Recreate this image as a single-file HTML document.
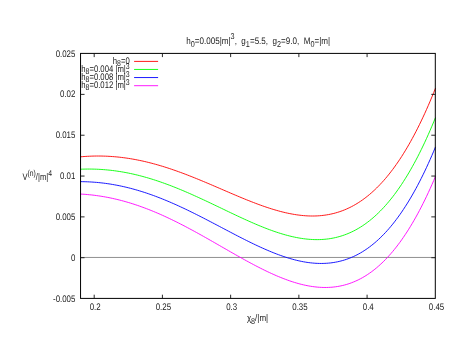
<!DOCTYPE html>
<html><head><meta charset="utf-8"><title>plot</title>
<style>
html,body{margin:0;padding:0;background:#fff;}
svg{display:block;}
g.t{filter:blur(0.4px);opacity:0.9;}
text{text-rendering:geometricPrecision;font-family:"Liberation Sans",sans-serif;font-size:10px;fill:#000;}
.sub{font-size:9px;}
</style></head><body>
<svg width="462" height="357" viewBox="0 0 462 357">
<rect x="0" y="0" width="462" height="357" fill="#fff"/>
<path d="M80.55 257.45 H435.30" stroke="#909090" stroke-width="1"/>
<path d="M80.50 156.81 L82.28 156.66 L84.07 156.52 L85.85 156.41 L87.64 156.30 L89.42 156.22 L91.20 156.15 L92.99 156.09 L94.77 156.05 L96.56 156.03 L98.34 156.03 L100.12 156.04 L101.91 156.06 L103.69 156.11 L105.47 156.17 L107.26 156.24 L109.04 156.33 L110.83 156.44 L112.61 156.57 L114.39 156.71 L116.18 156.87 L117.96 157.04 L119.75 157.23 L121.53 157.44 L123.31 157.66 L125.10 157.90 L126.88 158.15 L128.67 158.42 L130.45 158.70 L132.23 159.00 L134.02 159.32 L135.80 159.65 L137.59 160.00 L139.37 160.36 L141.15 160.73 L142.94 161.12 L144.72 161.53 L146.51 161.95 L148.29 162.38 L150.07 162.83 L151.86 163.29 L153.64 163.77 L155.42 164.26 L157.21 164.76 L158.99 165.27 L160.78 165.80 L162.56 166.34 L164.34 166.89 L166.13 167.46 L167.91 168.03 L169.70 168.62 L171.48 169.22 L173.26 169.83 L175.05 170.45 L176.83 171.08 L178.62 171.72 L180.40 172.36 L182.18 173.02 L183.97 173.69 L185.75 174.37 L187.54 175.05 L189.32 175.75 L191.10 176.45 L192.89 177.16 L194.67 177.87 L196.45 178.59 L198.24 179.32 L200.02 180.05 L201.81 180.79 L203.59 181.54 L205.37 182.29 L207.16 183.04 L208.94 183.79 L210.73 184.55 L212.51 185.32 L214.29 186.08 L216.08 186.85 L217.86 187.62 L219.65 188.39 L221.43 189.16 L223.21 189.93 L225.00 190.70 L226.78 191.47 L228.57 192.23 L230.35 193.00 L232.13 193.76 L233.92 194.52 L235.70 195.28 L237.48 196.03 L239.27 196.78 L241.05 197.52 L242.84 198.26 L244.62 198.99 L246.40 199.72 L248.19 200.43 L249.97 201.14 L251.76 201.84 L253.54 202.53 L255.32 203.22 L257.11 203.89 L258.89 204.55 L260.68 205.20 L262.46 205.83 L264.24 206.46 L266.03 207.07 L267.81 207.67 L269.60 208.25 L271.38 208.82 L273.16 209.37 L274.95 209.90 L276.73 210.42 L278.52 210.92 L280.30 211.40 L282.08 211.86 L283.87 212.30 L285.65 212.72 L287.43 213.11 L289.22 213.49 L291.00 213.84 L292.79 214.17 L294.57 214.47 L296.35 214.75 L298.14 215.01 L299.92 215.23 L301.71 215.43 L303.49 215.60 L305.27 215.74 L307.06 215.86 L308.84 215.94 L310.63 215.99 L312.41 216.00 L314.19 215.99 L315.98 215.94 L317.76 215.86 L319.55 215.74 L321.33 215.58 L323.11 215.39 L324.90 215.16 L326.68 214.89 L328.46 214.58 L330.25 214.23 L332.03 213.84 L333.82 213.41 L335.60 212.93 L337.38 212.41 L339.17 211.85 L340.95 211.24 L342.74 210.58 L344.52 209.88 L346.30 209.13 L348.09 208.32 L349.87 207.47 L351.66 206.57 L353.44 205.61 L355.22 204.60 L357.01 203.54 L358.79 202.42 L360.58 201.25 L362.36 200.02 L364.14 198.73 L365.93 197.38 L367.71 195.98 L369.49 194.51 L371.28 192.98 L373.06 191.39 L374.85 189.73 L376.63 188.01 L378.41 186.23 L380.20 184.37 L381.98 182.45 L383.77 180.47 L385.55 178.41 L387.33 176.28 L389.12 174.08 L390.90 171.80 L392.69 169.45 L394.47 167.03 L396.25 164.53 L398.04 161.96 L399.82 159.30 L401.61 156.57 L403.39 153.76 L405.17 150.86 L406.96 147.88 L408.74 144.82 L410.53 141.68 L412.31 138.44 L414.09 135.13 L415.88 131.72 L417.66 128.22 L419.44 124.64 L421.23 120.96 L423.01 117.19 L424.80 113.33 L426.58 109.37 L428.36 105.32 L430.15 101.17 L431.93 96.92 L433.72 92.57 L435.50 88.12" stroke="#ff0000" fill="none" stroke-width="0.9"/>
<path d="M80.50 169.22 L82.28 169.16 L84.07 169.11 L85.85 169.08 L87.64 169.06 L89.42 169.06 L91.20 169.07 L92.99 169.10 L94.77 169.15 L96.56 169.21 L98.34 169.29 L100.12 169.39 L101.91 169.50 L103.69 169.63 L105.47 169.77 L107.26 169.94 L109.04 170.11 L110.83 170.31 L112.61 170.52 L114.39 170.74 L116.18 170.99 L117.96 171.25 L119.75 171.52 L121.53 171.81 L123.31 172.12 L125.10 172.44 L126.88 172.78 L128.67 173.14 L130.45 173.51 L132.23 173.89 L134.02 174.29 L135.80 174.71 L137.59 175.14 L139.37 175.59 L141.15 176.05 L142.94 176.53 L144.72 177.02 L146.51 177.52 L148.29 178.04 L150.07 178.57 L151.86 179.12 L153.64 179.68 L155.42 180.25 L157.21 180.84 L158.99 181.44 L160.78 182.05 L162.56 182.68 L164.34 183.32 L166.13 183.97 L167.91 184.63 L169.70 185.30 L171.48 185.98 L173.26 186.68 L175.05 187.38 L176.83 188.10 L178.62 188.82 L180.40 189.56 L182.18 190.30 L183.97 191.06 L185.75 191.82 L187.54 192.59 L189.32 193.37 L191.10 194.15 L192.89 194.95 L194.67 195.75 L196.45 196.55 L198.24 197.37 L200.02 198.19 L201.81 199.01 L203.59 199.84 L205.37 200.67 L207.16 201.51 L208.94 202.35 L210.73 203.20 L212.51 204.05 L214.29 204.90 L216.08 205.75 L217.86 206.60 L219.65 207.46 L221.43 208.31 L223.21 209.17 L225.00 210.02 L226.78 210.88 L228.57 211.73 L230.35 212.58 L232.13 213.43 L233.92 214.28 L235.70 215.12 L237.48 215.96 L239.27 216.79 L241.05 217.62 L242.84 218.44 L244.62 219.26 L246.40 220.07 L248.19 220.87 L249.97 221.66 L251.76 222.45 L253.54 223.23 L255.32 223.99 L257.11 224.75 L258.89 225.50 L260.68 226.23 L262.46 226.95 L264.24 227.66 L266.03 228.36 L267.81 229.04 L269.60 229.71 L271.38 230.36 L273.16 231.00 L274.95 231.62 L276.73 232.22 L278.52 232.80 L280.30 233.37 L282.08 233.91 L283.87 234.44 L285.65 234.94 L287.43 235.43 L289.22 235.89 L291.00 236.33 L292.79 236.74 L294.57 237.13 L296.35 237.50 L298.14 237.83 L299.92 238.15 L301.71 238.43 L303.49 238.69 L305.27 238.91 L307.06 239.11 L308.84 239.28 L310.63 239.41 L312.41 239.51 L314.19 239.58 L315.98 239.62 L317.76 239.62 L319.55 239.59 L321.33 239.52 L323.11 239.41 L324.90 239.27 L326.68 239.08 L328.46 238.86 L330.25 238.60 L332.03 238.29 L333.82 237.94 L335.60 237.55 L337.38 237.12 L339.17 236.64 L340.95 236.12 L342.74 235.54 L344.52 234.92 L346.30 234.26 L348.09 233.54 L349.87 232.77 L351.66 231.95 L353.44 231.08 L355.22 230.16 L357.01 229.18 L358.79 228.15 L360.58 227.06 L362.36 225.92 L364.14 224.72 L365.93 223.45 L367.71 222.13 L369.49 220.75 L371.28 219.31 L373.06 217.80 L374.85 216.23 L376.63 214.60 L378.41 212.90 L380.20 211.13 L381.98 209.29 L383.77 207.39 L385.55 205.42 L387.33 203.37 L389.12 201.26 L390.90 199.07 L392.69 196.81 L394.47 194.47 L396.25 192.05 L398.04 189.56 L399.82 186.99 L401.61 184.35 L403.39 181.62 L405.17 178.81 L406.96 175.92 L408.74 172.94 L410.53 169.88 L412.31 166.73 L414.09 163.50 L415.88 160.18 L417.66 156.77 L419.44 153.27 L421.23 149.68 L423.01 146.00 L424.80 142.22 L426.58 138.35 L428.36 134.38 L430.15 130.31 L431.93 126.15 L433.72 121.89 L435.50 117.52" stroke="#00ff00" fill="none" stroke-width="0.9"/>
<path d="M80.50 181.64 L82.28 181.66 L84.07 181.69 L85.85 181.75 L87.64 181.81 L89.42 181.90 L91.20 182.00 L92.99 182.11 L94.77 182.25 L96.56 182.39 L98.34 182.56 L100.12 182.74 L101.91 182.94 L103.69 183.15 L105.47 183.38 L107.26 183.63 L109.04 183.89 L110.83 184.17 L112.61 184.47 L114.39 184.78 L116.18 185.11 L117.96 185.45 L119.75 185.81 L121.53 186.19 L123.31 186.58 L125.10 186.99 L126.88 187.41 L128.67 187.85 L130.45 188.31 L132.23 188.78 L134.02 189.27 L135.80 189.77 L137.59 190.29 L139.37 190.82 L141.15 191.37 L142.94 191.93 L144.72 192.50 L146.51 193.09 L148.29 193.70 L150.07 194.32 L151.86 194.95 L153.64 195.59 L155.42 196.25 L157.21 196.93 L158.99 197.61 L160.78 198.31 L162.56 199.02 L164.34 199.74 L166.13 200.48 L167.91 201.22 L169.70 201.98 L171.48 202.75 L173.26 203.53 L175.05 204.32 L176.83 205.12 L178.62 205.93 L180.40 206.75 L182.18 207.58 L183.97 208.42 L185.75 209.27 L187.54 210.12 L189.32 210.99 L191.10 211.86 L192.89 212.74 L194.67 213.62 L196.45 214.52 L198.24 215.41 L200.02 216.32 L201.81 217.23 L203.59 218.14 L205.37 219.06 L207.16 219.99 L208.94 220.91 L210.73 221.84 L212.51 222.78 L214.29 223.71 L216.08 224.65 L217.86 225.59 L219.65 226.53 L221.43 227.47 L223.21 228.41 L225.00 229.35 L226.78 230.29 L228.57 231.23 L230.35 232.17 L232.13 233.10 L233.92 234.03 L235.70 234.96 L237.48 235.88 L239.27 236.80 L241.05 237.71 L242.84 238.62 L244.62 239.52 L246.40 240.42 L248.19 241.31 L249.97 242.19 L251.76 243.06 L253.54 243.92 L255.32 244.77 L257.11 245.62 L258.89 246.45 L260.68 247.27 L262.46 248.07 L264.24 248.87 L266.03 249.65 L267.81 250.42 L269.60 251.17 L271.38 251.91 L273.16 252.63 L274.95 253.34 L276.73 254.02 L278.52 254.69 L280.30 255.34 L282.08 255.97 L283.87 256.58 L285.65 257.17 L287.43 257.74 L289.22 258.29 L291.00 258.81 L292.79 259.31 L294.57 259.79 L296.35 260.24 L298.14 260.66 L299.92 261.06 L301.71 261.43 L303.49 261.77 L305.27 262.08 L307.06 262.36 L308.84 262.62 L310.63 262.84 L312.41 263.03 L314.19 263.18 L315.98 263.30 L317.76 263.39 L319.55 263.44 L321.33 263.46 L323.11 263.43 L324.90 263.37 L326.68 263.28 L328.46 263.14 L330.25 262.96 L332.03 262.74 L333.82 262.48 L335.60 262.17 L337.38 261.82 L339.17 261.43 L340.95 260.99 L342.74 260.50 L344.52 259.97 L346.30 259.39 L348.09 258.76 L349.87 258.08 L351.66 257.34 L353.44 256.56 L355.22 255.72 L357.01 254.83 L358.79 253.88 L360.58 252.88 L362.36 251.82 L364.14 250.70 L365.93 249.52 L367.71 248.29 L369.49 246.99 L371.28 245.63 L373.06 244.21 L374.85 242.73 L376.63 241.18 L378.41 239.56 L380.20 237.88 L381.98 236.13 L383.77 234.31 L385.55 232.43 L387.33 230.47 L389.12 228.44 L390.90 226.33 L392.69 224.16 L394.47 221.90 L396.25 219.58 L398.04 217.17 L399.82 214.69 L401.61 212.13 L403.39 209.48 L405.17 206.76 L406.96 203.95 L408.74 201.06 L410.53 198.09 L412.31 195.03 L414.09 191.88 L415.88 188.64 L417.66 185.32 L419.44 181.90 L421.23 178.40 L423.01 174.80 L424.80 171.11 L426.58 167.32 L428.36 163.44 L430.15 159.46 L431.93 155.38 L433.72 151.20 L435.50 146.92" stroke="#0000ff" fill="none" stroke-width="0.9"/>
<path d="M80.50 194.05 L82.28 194.16 L84.07 194.28 L85.85 194.41 L87.64 194.57 L89.42 194.74 L91.20 194.92 L92.99 195.12 L94.77 195.34 L96.56 195.58 L98.34 195.83 L100.12 196.09 L101.91 196.38 L103.69 196.68 L105.47 196.99 L107.26 197.32 L109.04 197.67 L110.83 198.04 L112.61 198.42 L114.39 198.82 L116.18 199.23 L117.96 199.66 L119.75 200.10 L121.53 200.57 L123.31 201.04 L125.10 201.54 L126.88 202.05 L128.67 202.57 L130.45 203.11 L132.23 203.67 L134.02 204.24 L135.80 204.83 L137.59 205.43 L139.37 206.05 L141.15 206.68 L142.94 207.33 L144.72 207.99 L146.51 208.66 L148.29 209.35 L150.07 210.06 L151.86 210.78 L153.64 211.51 L155.42 212.25 L157.21 213.01 L158.99 213.78 L160.78 214.56 L162.56 215.36 L164.34 216.17 L166.13 216.99 L167.91 217.82 L169.70 218.66 L171.48 219.52 L173.26 220.38 L175.05 221.26 L176.83 222.14 L178.62 223.04 L180.40 223.95 L182.18 224.86 L183.97 225.78 L185.75 226.72 L187.54 227.66 L189.32 228.61 L191.10 229.57 L192.89 230.53 L194.67 231.50 L196.45 232.48 L198.24 233.46 L200.02 234.45 L201.81 235.45 L203.59 236.45 L205.37 237.45 L207.16 238.46 L208.94 239.47 L210.73 240.49 L212.51 241.51 L214.29 242.53 L216.08 243.55 L217.86 244.58 L219.65 245.60 L221.43 246.63 L223.21 247.65 L225.00 248.68 L226.78 249.70 L228.57 250.73 L230.35 251.75 L232.13 252.77 L233.92 253.78 L235.70 254.80 L237.48 255.81 L239.27 256.81 L241.05 257.81 L242.84 258.80 L244.62 259.79 L246.40 260.77 L248.19 261.74 L249.97 262.71 L251.76 263.67 L253.54 264.61 L255.32 265.55 L257.11 266.48 L258.89 267.40 L260.68 268.30 L262.46 269.19 L264.24 270.08 L266.03 270.94 L267.81 271.80 L269.60 272.63 L271.38 273.46 L273.16 274.26 L274.95 275.05 L276.73 275.83 L278.52 276.58 L280.30 277.32 L282.08 278.03 L283.87 278.73 L285.65 279.40 L287.43 280.06 L289.22 280.69 L291.00 281.30 L292.79 281.88 L294.57 282.44 L296.35 282.98 L298.14 283.49 L299.92 283.97 L301.71 284.43 L303.49 284.85 L305.27 285.25 L307.06 285.62 L308.84 285.96 L310.63 286.26 L312.41 286.54 L314.19 286.78 L315.98 286.98 L317.76 287.16 L319.55 287.29 L321.33 287.39 L323.11 287.46 L324.90 287.48 L326.68 287.47 L328.46 287.42 L330.25 287.32 L332.03 287.19 L333.82 287.01 L335.60 286.79 L337.38 286.53 L339.17 286.22 L340.95 285.87 L342.74 285.47 L344.52 285.02 L346.30 284.52 L348.09 283.97 L349.87 283.38 L351.66 282.73 L353.44 282.03 L355.22 281.28 L357.01 280.47 L358.79 279.61 L360.58 278.69 L362.36 277.72 L364.14 276.69 L365.93 275.60 L367.71 274.45 L369.49 273.23 L371.28 271.96 L373.06 270.63 L374.85 269.23 L376.63 267.76 L378.41 266.23 L380.20 264.64 L381.98 262.97 L383.77 261.24 L385.55 259.44 L387.33 257.56 L389.12 255.62 L390.90 253.60 L392.69 251.51 L394.47 249.34 L396.25 247.10 L398.04 244.78 L399.82 242.38 L401.61 239.90 L403.39 237.35 L405.17 234.71 L406.96 231.99 L408.74 229.18 L410.53 226.29 L412.31 223.32 L414.09 220.25 L415.88 217.10 L417.66 213.86 L419.44 210.53 L421.23 207.11 L423.01 203.60 L424.80 199.99 L426.58 196.29 L428.36 192.50 L430.15 188.60 L431.93 184.61 L433.72 180.52 L435.50 176.32" stroke="#ff00ff" fill="none" stroke-width="0.9"/>
<rect x="80.55" y="53.40" width="354.75" height="245.00" fill="none" stroke="#000" stroke-width="1"/>
<path d="M94.19 298.40 v-3.7 M94.19 53.40 v3.7" stroke="#111" stroke-width="0.9"/>
<path d="M162.42 298.40 v-3.7 M162.42 53.40 v3.7" stroke="#111" stroke-width="0.9"/>
<path d="M230.64 298.40 v-3.7 M230.64 53.40 v3.7" stroke="#111" stroke-width="0.9"/>
<path d="M298.86 298.40 v-3.7 M298.86 53.40 v3.7" stroke="#111" stroke-width="0.9"/>
<path d="M367.08 298.40 v-3.7 M367.08 53.40 v3.7" stroke="#111" stroke-width="0.9"/>
<path d="M80.55 257.72 h4 M435.30 257.72 h-4" stroke="#111" stroke-width="0.9"/>
<path d="M80.55 216.88 h4 M435.30 216.88 h-4" stroke="#111" stroke-width="0.9"/>
<path d="M80.55 176.05 h4 M435.30 176.05 h-4" stroke="#111" stroke-width="0.9"/>
<path d="M80.55 135.22 h4 M435.30 135.22 h-4" stroke="#111" stroke-width="0.9"/>
<path d="M80.55 94.38 h4 M435.30 94.38 h-4" stroke="#111" stroke-width="0.9"/>
<g class="t"><text transform="translate(95.15 309.90) scale(0.790 0.950)" text-anchor="middle" xml:space="preserve">0.2</text></g>
<g class="t"><text transform="translate(163.42 309.90) scale(0.790 0.950)" text-anchor="middle" xml:space="preserve">0.25</text></g>
<g class="t"><text transform="translate(231.69 309.90) scale(0.790 0.950)" text-anchor="middle" xml:space="preserve">0.3</text></g>
<g class="t"><text transform="translate(299.96 309.90) scale(0.790 0.950)" text-anchor="middle" xml:space="preserve">0.35</text></g>
<g class="t"><text transform="translate(368.23 309.90) scale(0.790 0.950)" text-anchor="middle" xml:space="preserve">0.4</text></g>
<g class="t"><text transform="translate(436.50 309.90) scale(0.790 0.950)" text-anchor="middle" xml:space="preserve">0.45</text></g>
<g class="t"><text transform="translate(75.40 301.50) scale(0.790 0.950)" text-anchor="end" xml:space="preserve">-0.005</text></g>
<g class="t"><text transform="translate(75.40 260.67) scale(0.790 0.950)" text-anchor="end" xml:space="preserve">0</text></g>
<g class="t"><text transform="translate(75.40 219.83) scale(0.790 0.950)" text-anchor="end" xml:space="preserve">0.005</text></g>
<g class="t"><text transform="translate(75.40 179.00) scale(0.790 0.950)" text-anchor="end" xml:space="preserve">0.01</text></g>
<g class="t"><text transform="translate(75.40 138.17) scale(0.790 0.950)" text-anchor="end" xml:space="preserve">0.015</text></g>
<g class="t"><text transform="translate(75.40 97.33) scale(0.790 0.950)" text-anchor="end" xml:space="preserve">0.02</text></g>
<g class="t"><text transform="translate(75.40 56.50) scale(0.790 0.950)" text-anchor="end" xml:space="preserve">0.025</text></g>
<g class="t"><text transform="translate(129.70 63.70) scale(0.772 0.950)" text-anchor="end" xml:space="preserve">h<tspan class="sub" dy="2.8">8</tspan><tspan dy="-2.8">=0</tspan></text></g>
<path d="M134.1 61.40 H158.1" stroke="#ff0000" stroke-width="0.9"/>
<g class="t"><text transform="translate(129.70 71.70) scale(0.772 0.950)" text-anchor="end" xml:space="preserve">h<tspan class="sub" dy="2.8">8</tspan><tspan dy="-2.8">=0.004 |m|</tspan><tspan class="sub" dy="-2.8">3</tspan></text></g>
<path d="M134.1 69.45 H158.1" stroke="#00ff00" stroke-width="0.9"/>
<g class="t"><text transform="translate(129.70 79.70) scale(0.772 0.950)" text-anchor="end" xml:space="preserve">h<tspan class="sub" dy="2.8">8</tspan><tspan dy="-2.8">=0.008 |m|</tspan><tspan class="sub" dy="-2.8">3</tspan></text></g>
<path d="M134.1 77.55 H158.1" stroke="#0000ff" stroke-width="0.9"/>
<g class="t"><text transform="translate(129.70 87.80) scale(0.772 0.950)" text-anchor="end" xml:space="preserve">h<tspan class="sub" dy="2.8">8</tspan><tspan dy="-2.8">=0.012 |m|</tspan><tspan class="sub" dy="-2.8">3</tspan></text></g>
<path d="M134.1 85.70 H158.1" stroke="#ff00ff" stroke-width="0.9"/>
<g class="t"><text transform="translate(258.20 43.90) scale(0.807 0.950)" text-anchor="middle" xml:space="preserve">h<tspan class="sub" dy="3.3">0</tspan><tspan dy="-3.3">=0.005|m|</tspan><tspan class="sub" dy="-5.0">3</tspan><tspan dy="5.0">,  g</tspan><tspan class="sub" dy="3.3">1</tspan><tspan dy="-3.3">=5.5,  g</tspan><tspan class="sub" dy="3.3">2</tspan><tspan dy="-3.3">=9.0,  M</tspan><tspan class="sub" dy="3.3">0</tspan><tspan dy="-3.3">=|m|</tspan></text></g>
<g class="t"><text transform="translate(22.50 179.50) scale(0.755 0.950)" text-anchor="start" xml:space="preserve">V<tspan class="sub" dy="-3.6">(n)</tspan><tspan dy="3.6">/|m|</tspan><tspan class="sub" dy="-3.6">4</tspan></text></g>
<g class="t"><text transform="translate(257.50 321.00) scale(0.800 0.950)" text-anchor="middle" xml:space="preserve">&#967;<tspan class="sub" dy="3.3">8</tspan><tspan dy="-3.3">/|m|</tspan></text></g>
</svg>
</body></html>
